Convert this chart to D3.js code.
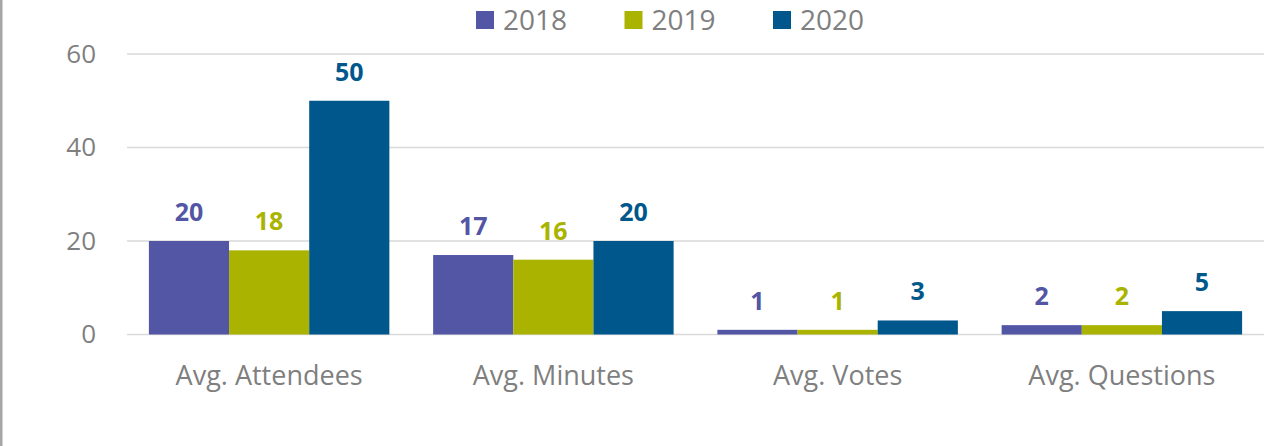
<!DOCTYPE html>
<html>
<head>
<meta charset="utf-8">
<script src="https://cdn.jsdelivr.net/npm/d3@7"></script>
<style>
  html, body { margin: 0; padding: 0; background: #fff; }
  svg { display: block; font-family: "Open Sans", sans-serif; }
</style>
</head>
<body>
<svg id="chart" width="1287" height="446"></svg>
<script>
// data
const categories = ["Avg. Attendees", "Avg. Minutes", "Avg. Votes", "Avg. Questions"];
const years = ["2018", "2019", "2020"];
const values2018 = [20, 17, 1, 2];
const values2019 = [18, 16, 1, 2];
const values2020 = [50, 20, 3, 5];
const yTicks = [0, 20, 40, 60];
const colors = ["#5256a5", "#aab400", "#00578b"];

const series = [values2018, values2019, values2020];
const rows = categories.map((c, i) => ({
    category: c,
    bars: years.map((y, j) => ({ year: y, value: series[j][i] }))
}));

const svg = d3.select("#chart");

// left border
svg.append("rect")
    .attr("x", 0).attr("y", 0)
    .attr("width", 2.5).attr("height", 446)
    .attr("fill", "#a6a6a6");

// SCALES
const x0 = d3.scaleBand()
    .domain(categories)
    .range([127, 1264])
    .paddingInner(0.154)
    .paddingOuter(0.077);

const x1 = d3.scaleBand()
    .domain(years)
    .range([0, x0.bandwidth()]);

const y = d3.scaleLinear()
    .domain([0, 60])
    .range([334.5, 54]);

const color = d3.scaleOrdinal().domain(years).range(colors);

// gridlines
svg.append("g")
    .selectAll("line")
    .data(yTicks)
    .join("line")
    .attr("x1", 127).attr("x2", 1264)
    .attr("y1", d => y(d)).attr("y2", d => y(d))
    .attr("stroke", "#d9d9d9")
    .attr("stroke-width", 1.5);

// y axis labels
const yAxis = svg.append("g")
    .attr("transform", "translate(110,0)")
    .call(d3.axisLeft(y).tickValues(yTicks).tickSize(0).tickPadding(14));
yAxis.select(".domain").remove();
yAxis.selectAll("text")
    .attr("font-family", "Open Sans, sans-serif")
    .attr("font-size", 26)
    .attr("fill", "#7f7f7f");

// x axis labels
const xAxis = svg.append("g")
    .attr("transform", "translate(0,334.5)")
    .call(d3.axisBottom(x0).tickSize(0).tickPadding(31));
xAxis.select(".domain").remove();
xAxis.selectAll("text")
    .attr("font-family", "Open Sans, sans-serif")
    .attr("font-size", 27)
    .attr("fill", "#7f7f7f");

// bars
const groups = svg.append("g")
    .selectAll("g")
    .data(rows)
    .join("g")
    .attr("transform", d => `translate(${x0(d.category)},0)`);

groups.selectAll("rect")
    .data(d => d.bars)
    .join("rect")
    .attr("x", d => x1(d.year))
    .attr("y", d => y(d.value))
    .attr("width", x1.bandwidth())
    .attr("height", d => y(0) - y(d.value))
    .attr("fill", d => color(d.year));

// value labels
groups.selectAll("text")
    .data(d => d.bars)
    .join("text")
    .attr("x", d => x1(d.year) + x1.bandwidth() / 2)
    .attr("y", d => y(d.value) - 20)
    .attr("text-anchor", "middle")
    .attr("font-size", 25)
    .attr("font-weight", "bold")
    .attr("fill", d => color(d.year))
    .text(d => d.value);

// legend
const legend = svg.append("g")
    .selectAll("g")
    .data(years)
    .join("g")
    .attr("transform", (d, i) => `translate(${476 + i * 148.5},11)`);

legend.append("rect")
    .attr("width", 18).attr("height", 18)
    .attr("fill", d => color(d));

legend.append("text")
    .attr("x", 27)
    .attr("y", 18.5)
    .attr("font-size", 28)
    .attr("fill", "#7f7f7f")
    .text(d => d);
</script>
</body>
</html>
